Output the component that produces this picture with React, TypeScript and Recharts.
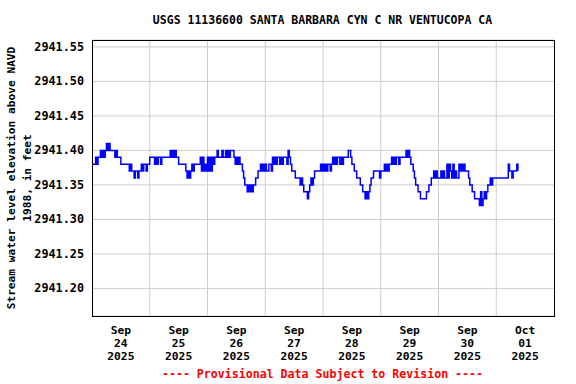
import React from "react";
import { CartesianGrid, Line, LineChart, ReferenceLine, XAxis, YAxis } from "recharts";

// gage height readings every 30 minutes, in hundredths of a foot above 2941 ft
const sep24 = [
  38, 38, 38, 39, 38, 39, 39, 40, 39, 40, 39, 40,
  41, 40, 41, 40, 40, 40, 40, 39, 40, 39, 39, 39,
  38, 38, 38, 38, 38, 38, 38, 37, 38, 37, 37, 36,
  37, 37, 36, 37, 37, 38, 37, 38, 38, 37, 38, 38,
];
const sep25 = [
  39, 39, 39, 39, 38, 39, 38, 39, 39, 38, 39, 39,
  39, 39, 39, 39, 39, 40, 39, 40, 39, 40, 39, 39,
  38, 38, 38, 38, 38, 38, 37, 36, 37, 36, 37, 38,
  37, 38, 38, 38, 38, 38, 39, 37, 39, 37, 38, 37,
];
const sep26 = [
  39, 37, 39, 37, 39, 38, 39, 39, 40, 39, 39, 39,
  40, 39, 39, 40, 39, 40, 39, 40, 40, 40, 39, 38,
  39, 38, 39, 38, 38, 37, 36, 35, 35, 34, 35, 34,
  35, 34, 35, 35, 36, 36, 37, 37, 38, 37, 38, 37,
];
const sep27 = [
  38, 37, 37, 38, 38, 37, 39, 38, 39, 38, 39, 39,
  38, 39, 38, 39, 39, 39, 38, 40, 39, 38, 37, 37,
  37, 36, 36, 36, 36, 35, 36, 35, 34, 34, 34, 33,
  34, 35, 36, 35, 36, 37, 37, 37, 37, 37, 38, 37,
];
const sep28 = [
  38, 37, 38, 37, 38, 38, 37, 38, 39, 38, 39, 38,
  39, 39, 38, 39, 38, 39, 39, 39, 39, 40, 40, 39,
  38, 38, 37, 37, 36, 36, 36, 35, 35, 34, 34, 33,
  34, 33, 34, 35, 36, 36, 37, 37, 37, 37, 37, 36,
];
const sep29 = [
  37, 37, 37, 38, 37, 38, 37, 38, 38, 39, 38, 39,
  38, 39, 39, 38, 39, 39, 39, 39, 39, 40, 39, 40,
  39, 38, 38, 37, 36, 35, 35, 34, 34, 33, 33, 33,
  33, 33, 34, 34, 35, 35, 36, 36, 37, 36, 37, 36,
];
const sep30 = [
  36, 36, 37, 36, 37, 36, 36, 38, 36, 38, 37, 36,
  38, 36, 37, 36, 36, 38, 37, 38, 37, 38, 37, 37,
  37, 36, 35, 35, 34, 34, 33, 33, 33, 33, 32, 34,
  32, 33, 34, 33, 34, 35, 35, 36, 35, 36, 36, 36,
];
const oct01 = [36, 36, 36, 36, 36, 36, 36, 36, 36, 36, 38, 37, 37, 36, 37, 37, 37, 38, 37];

const days = [sep24, sep25, sep26, sep27, sep28, sep29, sep30, oct01];
const dayLabels = [
  ["Sep", "24", "2025"],
  ["Sep", "25", "2025"],
  ["Sep", "26", "2025"],
  ["Sep", "27", "2025"],
  ["Sep", "28", "2025"],
  ["Sep", "29", "2025"],
  ["Sep", "30", "2025"],
  ["Oct", "01", "2025"],
];
const noonTicks = [12, 36, 60, 84, 108, 132, 156, 180];
const midnights = [24, 48, 72, 96, 120, 144, 168];
const yTicks = [2941.2, 2941.25, 2941.3, 2941.35, 2941.4, 2941.45, 2941.5, 2941.55];

const data = days.flatMap((vals, d) =>
  vals.map((v, i) => ({ t: d * 24 + i * 0.5, level: 2941 + v / 100 }))
);

const font = "'DejaVu Sans Mono', monospace";

function XTick({ x, payload }: any) {
  const lines = dayLabels[Math.round((payload.value - 12) / 24)] || [];
  return (
    <g>
      {lines.map((s, i) => (
        <text
          key={i}
          x={x}
          y={334 + i * 13}
          textAnchor="middle"
          fontFamily={font}
          fontWeight="bold"
          fontSize={11.3}
          fill="#000"
        >
          {s}
        </text>
      ))}
    </g>
  );
}

function YTick({ y, payload }: any) {
  return (
    <text
      x={84}
      y={y}
      dy={4}
      textAnchor="end"
      fontFamily={font}
      fontWeight="bold"
      fontSize={11.8}
      fill="#000"
    >
      {payload.value.toFixed(2)}
    </text>
  );
}

export default function App() {
  return (
    <div style={{ position: "relative", width: 576, height: 384, background: "#fff" }}>
      <style>{`body{margin:0}`}</style>
      <LineChart
        width={576}
        height={384}
        data={data}
        margin={{ top: 40, right: 22, bottom: 0, left: 0 }}
      >
        <CartesianGrid vertical={false} stroke="#cccccc" strokeWidth={1} />
        {midnights.map((m) => (
          <ReferenceLine key={m} x={m} stroke="#cccccc" strokeWidth={1} />
        ))}
        <XAxis
          dataKey="t"
          type="number"
          domain={[0, 192]}
          ticks={noonTicks}
          height={68}
          axisLine={false}
          tickLine={false}
          tick={<XTick />}
          interval={0}
        />
        <YAxis
          type="number"
          domain={[2941.16, 2941.56]}
          ticks={yTicks}
          width={92}
          axisLine={false}
          tickLine={false}
          tick={<YTick />}
          interval={0}
          allowDataOverflow
        />
        <Line
          type="stepAfter"
          dataKey="level"
          stroke="#0000ff"
          strokeWidth={1.5}
          dot={false}
          isAnimationActive={false}
        />
      </LineChart>
      <div
        style={{
          position: "absolute",
          left: 92,
          top: 40,
          width: 463,
          height: 277,
          boxSizing: "border-box",
          border: "1px solid #000",
          pointerEvents: "none",
        }}
      />
      <div
        style={{
          position: "absolute",
          left: 0,
          top: 13,
          width: 645,
          textAlign: "center",
          fontFamily: font,
          fontWeight: "bold",
          fontSize: 11.5,
          color: "#000",
          whiteSpace: "nowrap",
        }}
      >
        USGS 11136600 SANTA BARBARA CYN C NR VENTUCOPA CA
      </div>
      <div
        style={{
          position: "absolute",
          left: -130,
          top: 162,
          width: 300,
          height: 32,
          lineHeight: "16px",
          textAlign: "center",
          transform: "rotate(-90deg)",
          fontFamily: font,
          fontWeight: "bold",
          fontSize: 11.2,
          color: "#000",
          whiteSpace: "nowrap",
        }}
      >
        Stream water level elevation above NAVD
        <br />
        1988, in feet
      </div>
      <div
        style={{
          position: "absolute",
          left: 0,
          top: 367,
          width: 645,
          textAlign: "center",
          fontFamily: font,
          fontWeight: "bold",
          fontSize: 11.6,
          color: "#ff0000",
          whiteSpace: "nowrap",
        }}
      >
        ---- Provisional Data Subject to Revision ----
      </div>
    </div>
  );
}
